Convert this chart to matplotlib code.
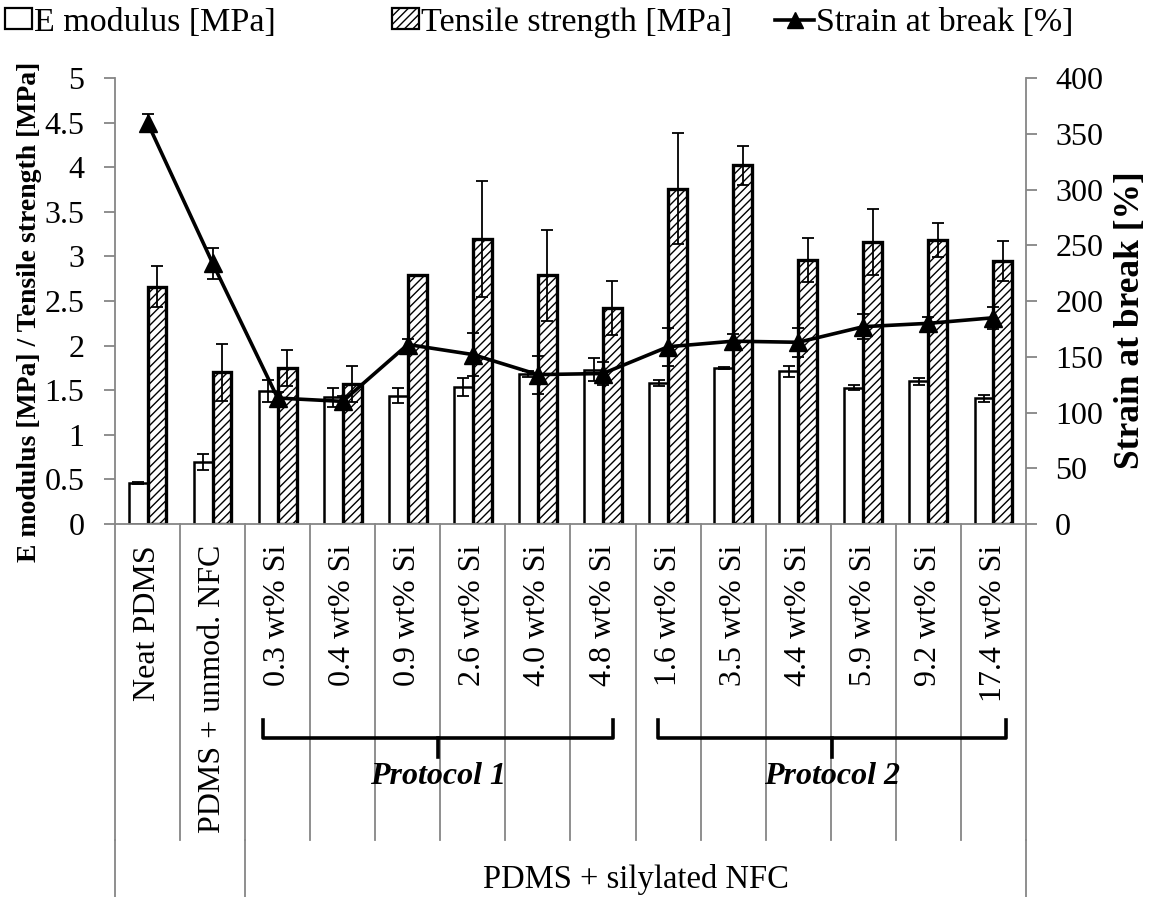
import matplotlib
matplotlib.use('Agg')
import matplotlib.pyplot as plt
import matplotlib.transforms as mtransforms
from matplotlib.patches import Patch
from matplotlib.lines import Line2D
import numpy as np

plt.rcParams['font.family'] = 'Liberation Serif'
plt.rcParams['hatch.linewidth'] = 1.0

categories = ['Neat PDMS', 'PDMS + unmod. NFC',
              '0.3 wt% Si', '0.4 wt% Si', '0.9 wt% Si', '2.6 wt% Si', '4.0 wt% Si', '4.8 wt% Si',
              '1.6 wt% Si', '3.5 wt% Si', '4.4 wt% Si', '5.9 wt% Si', '9.2 wt% Si', '17.4 wt% Si']
e_modulus = [0.46, 0.70, 1.49, 1.42, 1.44, 1.54, 1.68, 1.73, 1.58, 1.75, 1.71, 1.53, 1.60, 1.41]
e_modulus_err = [0.01, 0.09, 0.12, 0.11, 0.08, 0.10, 0.03, 0.13, 0.03, 0.01, 0.06, 0.03, 0.04, 0.04]
tensile = [2.66, 1.70, 1.75, 1.57, 2.79, 3.20, 2.79, 2.42, 3.76, 4.02, 2.96, 3.16, 3.18, 2.95]
tensile_err = [0.23, 0.32, 0.20, 0.20, 0.0, 0.65, 0.51, 0.30, 0.62, 0.22, 0.25, 0.37, 0.19, 0.22]
strain = [360, 234, 113, 110, 161, 152, 134, 135, 159, 164, 163, 177, 180, 185]
strain_err = [8, 14, 5, 5, 5, 19, 17, 10, 17, 6, 13, 11, 6, 10]

group_label = 'PDMS + silylated NFC'
protocols = ['Protocol 1', 'Protocol 2']

fig = plt.figure(figsize=(11.52, 8.97), dpi=100)
ax = fig.add_axes([0.0998, 0.4158, 0.7908, 0.4972])
ax2 = ax.twinx()

x = np.arange(len(categories))
w = 0.29
gray = '#868686'

ax.bar(x - w / 2, e_modulus, w, facecolor='white', edgecolor='black', linewidth=1.8, zorder=2)
ax.bar(x + w / 2, tensile, w, facecolor='white', edgecolor='black', linewidth=2.4,
       hatch='////', zorder=2)
ax.errorbar(x - w / 2, e_modulus, yerr=e_modulus_err, fmt='none', ecolor='black',
            elinewidth=1.3, capsize=4, capthick=1.3, zorder=3)
ax.errorbar(x + w / 2, tensile, yerr=tensile_err, fmt='none', ecolor='black',
            elinewidth=1.3, capsize=4, capthick=1.3, zorder=3)

ax2.errorbar(x, strain, yerr=strain_err, fmt='none', ecolor='black',
             elinewidth=1.3, capsize=4, capthick=1.3, zorder=3)
ax2.plot(x, strain, color='black', linewidth=2.6, marker='^', markersize=12.5, zorder=4)

ax.set_xlim(-0.5, len(categories) - 0.5)
ax.set_ylim(0, 5)
ax2.set_ylim(0, 400)
ax.set_yticks(np.arange(0, 5.01, 0.5))
ax.set_yticklabels([f'{v:g}' for v in np.arange(0, 5.01, 0.5)])
ax2.set_yticks(np.arange(0, 401, 50))

for a in (ax, ax2):
    for s in a.spines.values():
        s.set_visible(False)
ax.spines['left'].set_visible(True)
ax.spines['left'].set_color(gray)
ax.spines['left'].set_linewidth(1.3)
ax.spines['bottom'].set_visible(True)
ax.spines['bottom'].set_color(gray)
ax.spines['bottom'].set_linewidth(1.3)
ax2.spines['right'].set_visible(True)
ax2.spines['right'].set_color(gray)
ax2.spines['right'].set_linewidth(1.3)

ax.tick_params(axis='y', direction='out', length=8, width=1.3, color=gray,
               labelsize=23, pad=14)
ax2.tick_params(axis='y', direction='out', length=8, width=1.3, color=gray,
                labelsize=23, pad=13)
ax.set_xticks([])

# category label lines and texts
trans = mtransforms.blended_transform_factory(ax.transData, ax.transAxes)
for b in np.arange(-0.5, len(categories), 1.0):
    ax.plot([b, b], [0, -0.709], color=gray, linewidth=1.3, transform=trans, clip_on=False)
for b in [-0.5, 1.5, len(categories) - 0.5]:
    ax.plot([b, b], [-0.709, -0.9], color=gray, linewidth=1.3, transform=trans, clip_on=False)
for xi, lab in zip(x, categories):
    ax.text(xi, -0.047, lab, rotation=90, ha='center', va='top', fontsize=23,
            transform=trans)
ax.text(7.5, -0.796, group_label, ha='center', va='center', fontsize=23.5, transform=trans)

# protocol brackets
for (x0, x1), name in zip([(1.78, 7.15), (7.84, 13.19)], protocols):
    xc = (x0 + x1) / 2
    ax.plot([x0, x0, x1, x1], [-0.44, -0.48, -0.48, -0.44], color='black', linewidth=2.6,
            transform=trans, clip_on=False, solid_joinstyle='round')
    ax.plot([xc, xc], [-0.48, -0.522], color='black', linewidth=2.6,
            transform=trans, clip_on=False)
    ax.text(xc, -0.567, name, ha='center', va='center', fontsize=23, fontweight='bold',
            style='italic', transform=trans)

fig.text(0.026, 0.652, 'E modulus [MPa] / Tensile strength [MPa]', rotation=90,
         ha='center', va='center', fontsize=20, fontweight='bold')
fig.text(0.981, 0.643, 'Strain at break [%]', rotation=90,
         ha='center', va='center', fontsize=25.5, fontweight='bold')

handles = [
    Patch(facecolor='white', edgecolor='black', linewidth=1.6, label='E modulus [MPa]'),
    Patch(facecolor='white', edgecolor='black', linewidth=1.6, hatch='////',
          label='Tensile strength [MPa]'),
    Line2D([0], [0], color='black', linewidth=2.6, marker='^', markersize=12,
           label='Strain at break [%]'),
]
for h, xpos, hl in zip(handles, [5 / 1152, 392 / 1152, 775 / 1152], [0.8, 0.8, 1.15]):
    leg = fig.legend(handles=[h], loc='center left', bbox_to_anchor=(xpos, 0.975),
                     frameon=False, fontsize=24.5, handlelength=hl, handleheight=0.55,
                     handletextpad=0.05, borderpad=0, borderaxespad=0)

fig.savefig('out.png', dpi=100)
